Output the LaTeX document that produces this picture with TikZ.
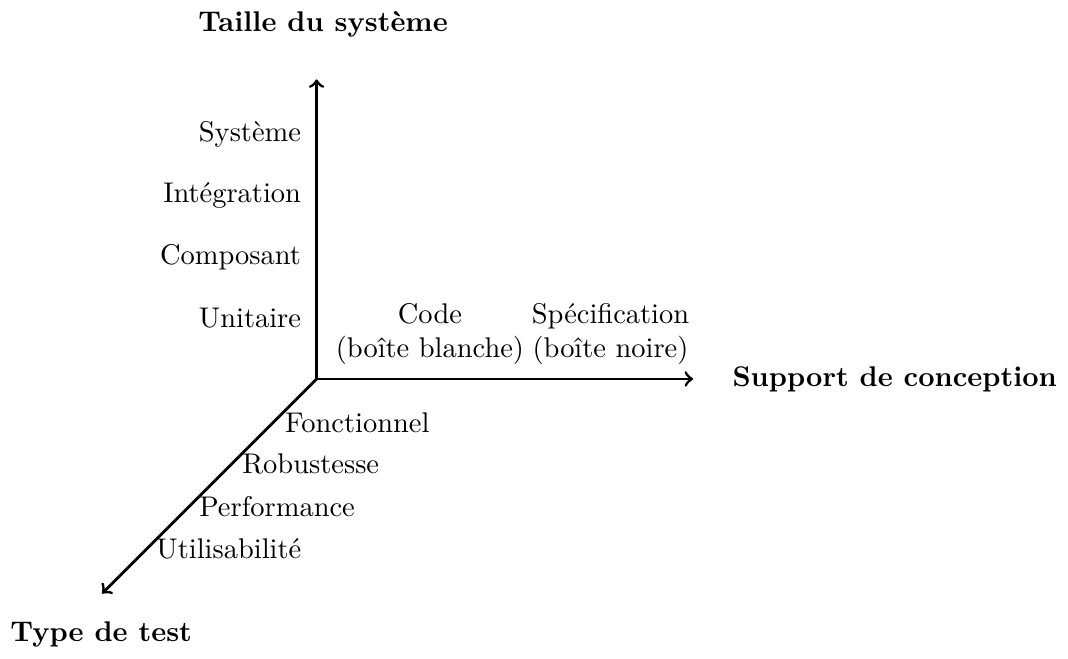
\documentclass[tikz,border=0pt]{standalone}

\begin{document}
\begin{tikzpicture}
				\tikzstyle{every node}=[inner sep=3pt, align=center]
				\useasboundingbox (-3.91,-3.45) rectangle (9.28,4.68);
				\coordinate (O) at (0, 0);
				\coordinate (Taille) at (0, 3.7);
				\coordinate (Support) at (4.65, 0);
				\coordinate (Type) at (-2.65, -2.65);
				\draw [line width=1pt, ->] (O) -- (Taille);
				\draw [line width=1pt, ->] (O) -- (Support);
				\draw [line width=1pt, ->] (O) -- (Type);
				% titres des axes
				\node (tTaille) at (0.08, 4.38) {\textbf{Taille du système}};
				\node (tSupport) at (7.14, 0) {\textbf{Support de conception}};
				\node (tType) at (-2.66, -3.16) {\textbf{Type de test}};
				% taille
				\node [anchor=east] (unit) at (-0.08, 0.75) {Unitaire};
				\node [anchor=east] (comp) at (-0.08, 1.5) {Composant};
				\node [anchor=east] (integ) at (-0.08, 2.27) {Intégration};
				\node [anchor=east] (syst) at (-0.08, 3.02) {Système};
				% support
				\node (code) at (1.4, 0.56) {Code\\(boîte blanche)};
				\node (spec) at (3.63, 0.56) {Spécification\\(boîte noire)};
				% type
				\node [anchor=west] (fonc) at (-0.5, -0.54) {Fonctionnel};
				\node [anchor=west] (robu) at (-1.03, -1.05) {Robustesse};
				\node [anchor=west] (perf) at (-1.56, -1.58) {Performance};
				\node [anchor=west] (util) at (-2.09, -2.1) {Utilisabilité};
		\end{tikzpicture}
\end{document}
